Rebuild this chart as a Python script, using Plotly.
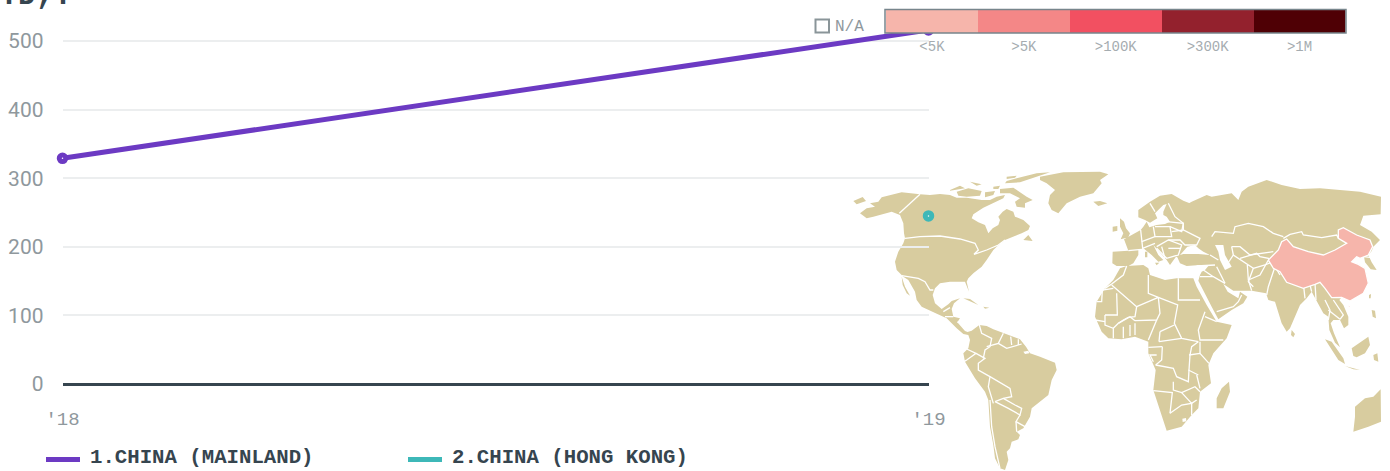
import plotly.graph_objects as go

W, H = 1390, 471

# ---------- chart data ----------
YEARS = [2018, 2019]
YEAR_LABELS = ["'18", "'19"]
MAINLAND = [329, 516]
HONG_KONG = [None, 245]
SERIES_NAMES = ["1.CHINA (MAINLAND)", "2.CHINA (HONG KONG)"]
SERIES_COLORS = ["#6C3AC3", "#3DB8B8"]
Y_TICKS = [0, 100, 200, 300, 400, 500]
BIN_LABELS = ["<5K", ">5K", ">100K", ">300K", ">1M"]
BIN_COLORS = ["#F6B5AB", "#F48787", "#F25061", "#93212D", "#4F0005"]
BIN_CELLS = [1, 1, 1, 1, 1]
LAND = "#D8CC9F"
INK = "#36454F"
MUTED = "#8F989D"

# ---------- base map: outlines, as (origin, points) ----------
NA = (850, 165)
SA = (940, 320)
AF = (1085, 260)
EU = (1100, 180)
RU = (1100, 165)
EA = (1240, 175)
SE = (1240, 220)

LAND_SHAPES = [
 # North and Central America
 [(NA, [(60,115),(85,110),(95,97),(120,90),(155,82),(210,88),(240,90),(270,87),(300,90),(320,98),(350,98),(395,105),(420,105),(440,95),(465,90),(460,100),(420,120),(400,128),(370,148),(365,160),(385,172),(405,180),(415,205),(428,190),(445,180),(450,165),(445,155),(458,140),(470,132),(490,140),(495,155),(520,165),(540,183),(535,195),(515,205),(490,215),(465,225),(440,245),(430,255),(410,285),(395,305),(370,325),(355,340),(350,350),(357,380),(345,350),(300,350),(270,355),(255,370),(248,390),(255,415),(275,432),(295,418),(305,408),(330,400),(312,415),(305,432),(310,455),(330,460),(322,472),(345,498),(368,507),(345,507),(320,490),(290,460),(262,447),(215,425),(200,405),(195,380),(175,345),(160,335),(140,315),(135,290),(145,260),(160,235),(165,220),(162,205),(160,175),(150,150),(125,140),(95,147),(70,155),(50,160),(30,145),(50,130),(75,125)])],
 [(NA, [(155,335),(165,365),(180,392),(170,385),(158,360)])],
 [(NA, [(10,108),(38,96),(48,108),(20,118)])],
 [(NA, [(300,75),(330,62),(345,70),(300,77)])],
 [(NA, [(320,80),(355,70),(395,78),(390,92),(350,95),(325,92)])],
 [(NA, [(360,50),(395,58),(380,62)])],
 [(NA, [(405,82),(435,78),(430,90),(405,97)])],
 [(NA, [(450,72),(490,68),(530,95),(548,105),(525,115),(525,128),(500,125),(495,110),(510,100),(480,85),(450,85)])],
 [(NA, [(430,65),(450,62),(445,72),(430,72)])],
 [(NA, [(470,35),(500,32),(495,38),(470,42)])],
 [(NA, [(500,40),(560,25),(600,22),(550,38),(510,52),(465,55),(470,48)])],
 [(NA, [(520,225),(535,210),(548,228)])],
 [(NA, [(570,35),(640,22),(750,20),(775,28),(750,45),(755,55),(730,85),(690,95),(650,115),(625,145),(605,135),(595,115),(600,90),(615,75),(590,55),(570,45)])],
 [(NA, [(730,110),(750,108),(772,115),(745,123)])],
 [(NA, [(340,400),(360,402),(385,420),(365,412)])],
 [(NA, [(400,425),(418,428),(405,431)])],
 # South America
 [(SA, [(40,0),(55,18),(75,38),(95,32),(118,15),(140,18),(160,28),(190,40),(215,50),(240,58),(258,80),(270,100),(300,110),(345,128),(350,150),(335,180),(325,225),(290,255),(275,265),(270,290),(250,325),(230,335),(240,345),(235,358),(215,365),(210,385),(200,395),(205,420),(195,450),(180,445),(165,415),(160,375),(150,320),(145,240),(135,215),(105,175),(75,125),(70,100),(85,85),(90,60),(85,45),(70,42),(50,25),(35,8)])],
 # Africa
 [(AF, [(105,25),(125,18),(175,15),(190,25),(195,45),(240,60),(275,55),(325,55),(335,80),(365,135),(395,185),(440,195),(425,235),(385,280),(370,315),(375,350),(378,370),(345,395),(340,445),(320,465),(290,500),(245,512),(235,480),(215,420),(205,390),(212,330),(190,280),(190,245),(150,230),(110,238),(70,235),(50,215),(30,170),(35,125),(60,85),(85,60)])],
 [(AF, [(432,365),(435,395),(415,445),(395,445),(395,415),(410,385)])],
 # Eurasia
 [(EU, [(37,250),(38,215),(85,212),(72,178),(95,165),(122,150),(130,140),(140,125),(148,142),(170,135),(195,132),(210,125),(200,110),(190,105),(190,95),(200,72),(190,75),(165,100),(172,115),(150,128),(135,120),(115,112),(115,90),(150,65),(180,47),(215,42),(250,62),(275,72),(245,82),(240,85),(275,65)]),
  (RU, [(320,90),(335,95),(395,85),(415,105),(425,80),(445,65),(500,45),(545,60),(600,72),(660,70),(720,75),(780,80),(843,95)]),
  (EA, [(422,118),(370,122),(360,150),(395,170),(420,195),(400,215),(395,228),(385,240),(395,262),(410,285),(392,283),(375,262),(372,245),(360,248),(350,245),(335,260),(355,268),(375,280),(385,325),(370,355),(330,378),(305,367)]),
  (SE, [(298,240),(310,255),(325,290),(325,315),(312,325),(300,300),(280,300),(272,310),(282,340),(300,382),(285,368),(268,330),(265,290),(250,280),(228,240),(215,215),(200,235),(180,255),(150,325),(140,335),(125,310),(105,245),(85,240),(78,220),(35,212)]),
  (AF, [(500,92),(445,92),(415,72),(428,95),(460,115),(465,95),(487,110),(475,130),(440,150),(400,178),(380,140),(345,75),(340,62),(345,45),(350,35),(360,30)]),
  (EU, [(325,258),(300,255),(260,258),(240,250),(232,232),(228,230),(210,255),(200,240),(170,205),(160,195),(175,225),(190,240),(175,245),(155,225),(130,205),(115,210),(115,225),(100,250),(85,258),(50,258)])],
 [(EU, [(60,115),(72,125),(78,145),(90,160),(85,172),(62,178),(70,160),(60,140)])],
 [(EU, [(38,140),(52,138),(52,152),(38,155)])],
 [(EU, [(165,248),(178,248),(170,256)])],
 [(EU, [(135,215),(142,215),(142,232),(135,232)])],
 # South-east Asia, Australia
 [(SE, [(155,330),(165,342),(160,352),(153,345)])],
 [(SE, [(255,358),(275,365),(310,415),(315,432),(295,420)])],
 [(SE, [(315,438),(360,450),(340,448)])],
 [(SE, [(335,385),(365,365),(385,350),(390,375),(375,400),(350,412),(340,408)])],
 [(SE, [(400,405),(412,400),(415,425),(402,420)])],
 [(SE, [(395,270),(405,272),(408,295),(398,290)])],
 [(SE, [(387,225),(393,222),(392,235),(387,235)])],
 [(SE, [(422,508),(423,605),(385,620),(340,635),(345,590),(345,560),(375,535),(400,530)])],
]

WATER_SHAPES = [
 [(EU, [(240,225),(262,200),(285,195),(295,205),(310,215),(330,225),(295,222),(250,222)])],
 [(EU, [(345,195),(370,195),(375,225),(395,260),(375,270),(360,240),(355,215)])],
 [(SA, [(250,95),(265,92),(268,100),(255,102)])],
 [(AF, [(292,476),(303,474),(304,484),(293,486)])],
]

CHINA_SHAPES = [
 [(EA, [(85,255),(115,225),(125,200),(140,192),(160,215),(205,230),(250,240),(285,225),(320,205),(295,190),(295,165),(310,158),(350,180),(390,195),(398,215),(385,240),(360,250),(350,245),(335,260),(355,268),(375,280),(385,325),(370,355),(330,378),(305,367),(275,368),(255,340),(240,322),(225,328),(190,340),(140,322),(120,290),(100,280)])],
 [(SE, [(325,258),(332,255),(332,262)])],
]

BORDERS = [
 # North America
 (NA, [(210,88),(148,145)]),
 (NA, [(165,220),(210,215),(270,213),(330,222),(375,235),(385,255),(372,268),(410,255),(445,240),(465,225)]),
 (NA, [(155,332),(205,340),(225,350),(240,375),(250,375)]),
 (NA, [(280,440),(300,428)]), (NA, [(285,455),(310,455)]), (NA, [(322,472),(340,465)]),
 # South America
 (SA, [(118,15),(125,40),(155,55),(150,80),(135,90),(130,115)]),
 (SA, [(80,87),(108,100),(80,120),(72,125)]),
 (SA, [(108,100),(135,115),(115,130),(115,150),(150,170),(145,200),(160,250)]),
 (SA, [(150,170),(175,185),(210,205),(215,230),(190,235),(165,245)]),
 (SA, [(150,240),(155,320),(165,380),(175,430),(180,445)]),
 (SA, [(165,245),(205,265),(240,285),(245,265),(225,255),(190,235)]),
 (SA, [(240,285),(228,305),(255,320)]),
 (SA, [(228,305),(230,335)]),
 (SA, [(190,40),(175,70),(140,80)]),
 (SA, [(212,50),(215,75)]), (SA, [(235,58),(235,75)]), (SA, [(175,70),(200,85),(245,72)]),
 # Africa
 (AF, [(125,18),(115,45),(80,72),(60,85)]),
 (AF, [(35,125),(50,125),(52,90),(85,85)]),
 (AF, [(80,75),(155,140),(150,170),(130,172),(115,180),(100,190)]),
 (AF, [(95,100),(97,165),(60,165)]),
 (AF, [(190,45),(190,100),(220,112),(155,140)]),
 (AF, [(280,55),(280,120),(345,120)]),
 (AF, [(220,112),(278,135),(268,190),(290,235),(340,245)]),
 (AF, [(220,112),(225,160),(215,180),(150,182)]),
 (AF, [(360,155),(340,210),(345,240),(385,240),(415,240)]),
 (AF, [(360,170),(395,185)]),
 (AF, [(222,245),(250,240),(290,235)]),
 (AF, [(225,215),(268,195)]),
 (AF, [(215,180),(190,240)]), (AF, [(225,215),(222,245)]),
 (AF, [(232,260),(230,300),(212,315),(235,320),(265,325),(275,350),(310,365),(312,330),(315,285),(320,260),(340,245)]),
 (AF, [(232,260),(190,262)]), (AF, [(215,285),(195,285),(205,305)]),
 (AF, [(345,245),(345,280)]),
 (AF, [(312,285),(345,280),(372,310)]), (AF, [(310,330),(340,345)]),
 (AF, [(205,392),(262,398),(255,460)]),
 (AF, [(265,365),(265,390),(290,398),(330,380),(345,395)]),
 (AF, [(335,345),(345,385)]),
 (AF, [(290,398),(320,430),(335,420)]),
 (AF, [(255,460),(290,435),(320,430),(320,465)]),
 (AF, [(100,190),(135,170),(150,182)]),
 (AF, [(85,205),(85,235)]), (AF, [(115,200),(115,235)]),
 (AF, [(135,195),(135,228)]), (AF, [(150,190),(150,225)]),
 (AF, [(60,165),(60,195),(85,205),(100,190)]), (AF, [(30,180),(60,185)]),
 # Europe
 (EU, [(85,212),(125,208)]),
 (EU, [(122,150),(125,185),(128,205),(165,190)]),
 (EU, [(160,140),(165,170),(125,185)]),
 (EU, [(165,140),(210,140),(215,170),(165,170)]),
 (EU, [(200,125),(250,130),(245,155),(210,140)]),
 (EU, [(215,155),(250,150),(300,175),(290,195),(255,195),(240,180),(205,180)]),
 (EU, [(205,70),(225,110),(250,130),(250,150)]),
 (EU, [(165,95),(150,70)]),
 (EU, [(170,200),(205,180),(245,195),(235,225),(200,235),(170,205)]),
 (EU, [(205,205),(240,205)]), (EU, [(185,200),(195,235)]),
 (EU, [(330,225),(355,240)]), (EU, [(290,258),(345,255)]),
 # Middle East and Asia
 (AF, [(345,50),(385,50),(420,70)]),
 (AF, [(395,155),(445,140),(460,125),(470,105)]),
 (AF, [(385,50),(355,30)]),
 (AF, [(420,70),(395,20)]),
 (RU, [(335,215),(345,200),(400,205),(405,185),(445,175),(490,185),(520,205),(550,215)]),
 (EA, [(130,190),(150,178),(185,170),(190,180),(245,188),(290,180),(295,190)]),
 (RU, [(395,245),(420,245),(450,270),(480,265),(520,260)]),
 (RU, [(395,245),(400,270),(460,310),(445,350),(460,365)]),
 (RU, [(380,300),(400,270)]),
 (RU, [(460,310),(495,300),(530,285),(540,320)]),
 (SE, [(0,115),(50,100),(60,110),(85,115),(90,130)]),
 (SE, [(85,120),(105,140),(85,200),(80,225)]),
 (SE, [(22,135),(25,180),(35,212)]),
 (SE, [(25,180),(60,165),(85,120)]),
 (SE, [(105,140),(120,165)]),
 (SE, [(190,190),(195,235)]), (SE, [(210,195),(215,215)]),
 (SE, [(225,190),(228,240)]),
 (SE, [(255,240),(270,270),(265,300)]),
 (SE, [(280,240),(310,285),(300,298)]),
 (SE, [(265,270),(300,298)]),
 (EA, [(372,245),(395,248)]),
]


def to_page(parts):
    xs, ys = [], []
    for origin, pts in parts:
        for px, py in pts:
            xs.append(origin[0] + px / 3)
            ys.append(origin[1] + py / 3)
    return xs, ys


def join(shapes):
    xs, ys = [], []
    for parts in shapes:
        a, b = to_page(parts)
        xs += a + [a[0], None]
        ys += b + [b[0], None]
    return xs, ys


fig = go.Figure()

# map (primary axes, drawn underneath)
for shapes, colour in [(LAND_SHAPES, LAND), (WATER_SHAPES, "#FFFFFF")]:
    mx, my = join(shapes)
    fig.add_trace(go.Scatter(x=mx, y=my, mode="lines", fill="toself", fillcolor=colour,
                             line=dict(width=0, color=colour), hoverinfo="skip", showlegend=False))
bx, by = [], []
for b in BORDERS:
    a, c = to_page([b])
    bx += a + [None]
    by += c + [None]
fig.add_trace(go.Scatter(x=bx, y=by, mode="lines", line=dict(color="#FFFFFF", width=1.3),
                         hoverinfo="skip", showlegend=False))
cx, cy = join(CHINA_SHAPES)
fig.add_trace(go.Scatter(x=cx, y=cy, mode="lines", fill="toself", fillcolor=BIN_COLORS[0],
                         line=dict(color="#FFFFFF", width=1.3), hoverinfo="skip", showlegend=False))

# line chart
for name, vals, colour in zip(SERIES_NAMES, [MAINLAND, HONG_KONG], SERIES_COLORS):
    fig.add_trace(go.Scatter(x=YEARS, y=vals, mode="lines", name=name, xaxis="x2", yaxis="y2",
                             line=dict(color=colour, width=5), cliponaxis=False, showlegend=False))
    fig.add_trace(go.Scatter(x=YEARS, y=vals, mode="markers", xaxis="x2", yaxis="y2", showlegend=False,
                             marker=dict(size=6.5, color="#FFFFFF", line=dict(color=colour, width=5)),
                             cliponaxis=False))

# colour-scale legend
fig.add_trace(go.Bar(x=BIN_LABELS, y=BIN_CELLS, marker=dict(color=BIN_COLORS, line=dict(width=0)),
                     xaxis="x3", yaxis="y3", width=1, showlegend=False, hoverinfo="skip"))

plot_l, plot_r = 62.5, 928.5
y0_px, y500_px = 384, 41
top_val = 525
top_px = y0_px - (y0_px - y500_px) * top_val / 500

# series key at the foot of the chart
KEY_LINE_LEFT = [46, 408]
KEY_TEXT_LEFT = [90, 452]
key_shapes = [
    dict(type="line", xref="paper", yref="paper", x0=l / W, x1=(l + 34) / W, y0=1 - 459.5 / H, y1=1 - 459.5 / H,
         line=dict(color=c, width=5))
    for l, c in zip(KEY_LINE_LEFT, SERIES_COLORS)
]
key_notes = [
    dict(text="<b>" + n + "</b>", xref="paper", yref="paper", x=l / W, y=1 - 457.5 / H, xanchor="left",
         yanchor="middle", showarrow=False, xshift=-2,
         font=dict(family="Liberation Mono", size=20.7, color=INK))
    for l, n in zip(KEY_TEXT_LEFT, SERIES_NAMES)
]

fig.update_layout(
    template="none",
    width=W, height=H, margin=dict(l=0, r=0, t=0, b=0, pad=0), autosize=False, showlegend=False,
    paper_bgcolor="#FFFFFF", plot_bgcolor="rgba(0,0,0,0)", bargap=0, hovermode=False,
    title=dict(text="<b>TD,:</b>", xref="container", yref="container", x=0, xanchor="left",
               y=1 - 4 / H, yanchor="bottom", pad=dict(l=0, r=0, t=0, b=0),
               font=dict(family="Liberation Mono", size=30, color=INK)),
    xaxis=dict(domain=[850 / W, 1381 / W], range=[850, 1381], visible=False, fixedrange=True, automargin=False),
    yaxis=dict(domain=[0, 1 - 170 / H], range=[471, 170], visible=False, fixedrange=True, automargin=False),
    xaxis2=dict(domain=[plot_l / W, plot_r / W], range=[YEARS[0], YEARS[1]], anchor="y2",
                tickvals=YEARS, ticktext=YEAR_LABELS, showgrid=False, zeroline=False, showline=False,
                tickfont=dict(family="Liberation Mono", size=19, color=MUTED), ticks="", ticklabelstandoff=21,
                automargin=False),
    yaxis2=dict(domain=[1 - y0_px / H, 1 - top_px / H], range=[0, top_val], anchor="x2",
                tickvals=Y_TICKS, gridcolor="#ECEEEF", gridwidth=2,
                zeroline=True, zerolinecolor=INK, zerolinewidth=3, showline=False,
                tickfont=dict(family="Roboto", size=21, color=MUTED), ticks="", ticklabelstandoff=18,
                automargin=False),
    xaxis3=dict(domain=[886 / W, 1345.5 / W], range=[-0.5, 4.5], anchor="y3", type="category",
                categoryorder="array", categoryarray=BIN_LABELS, showgrid=False, zeroline=False,
                tickfont=dict(family="Liberation Mono", size=14, color="#A5ACB0"), ticks="",
                ticklabelstandoff=3, fixedrange=True, automargin=False),
    yaxis3=dict(domain=[1 - 33 / H, 1 - 10 / H], range=[0, 1], anchor="x3", visible=False, fixedrange=True,
                automargin=False),
    shapes=[
        dict(type="rect", xref="paper", yref="paper", x0=885 / W, x1=1346 / W, y0=1 - 33 / H, y1=1 - 9.5 / H,
             line=dict(color="#77858C", width=1.5), fillcolor="rgba(0,0,0,0)"),
        dict(type="rect", xref="paper", yref="paper", x0=815.5 / W, x1=829 / W, y0=1 - 32.5 / H, y1=1 - 19.5 / H,
             line=dict(color="#8A9599", width=2), fillcolor="rgba(0,0,0,0)"),
    ] + key_shapes,
    annotations=[
        dict(text="N/A", xref="paper", yref="paper", x=835 / W, y=1 - 27 / H, xanchor="left", yanchor="middle",
             showarrow=False, xshift=-2, font=dict(family="Liberation Mono", size=16, color=MUTED)),
    ] + key_notes,
)

fig.write_html("out.html", post_script="document.body.style.margin='0';",
               config={"displayModeBar": False, "responsive": False})
